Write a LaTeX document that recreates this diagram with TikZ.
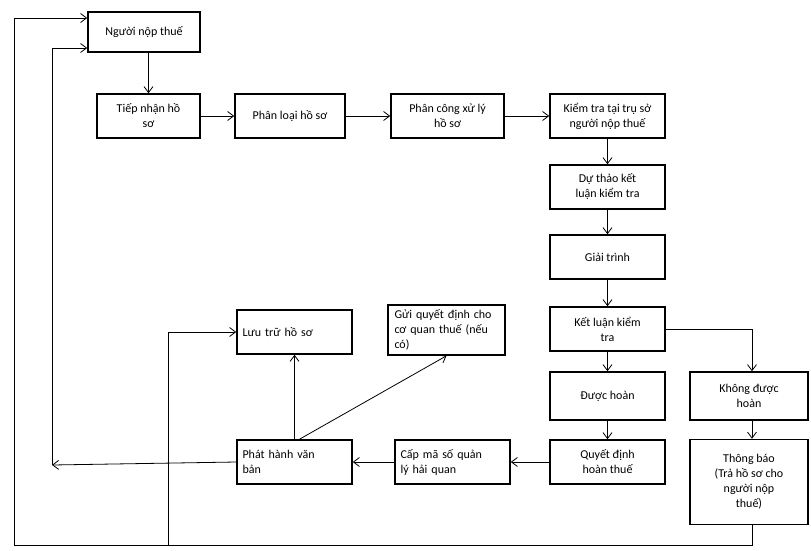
\documentclass[tikz,border=0pt]{standalone}
\usepackage{fontspec}
\setmainfont{Carlito}
\usetikzlibrary{arrows.meta}
\begin{document}
\begin{tikzpicture}[x=1pt,y=-1pt,font=\fontsize{12}{15}\selectfont,
  bx/.style={draw,line width=1.6pt,minimum width=113pt,minimum height=44pt,align=center,inner sep=3pt},
  bl/.style={bx,align=left,text width=104pt},
  ar/.style={-{Straight Barb[length=6pt,width=9pt]},line width=0.8pt}]
\useasboundingbox (0,0) rectangle (811,550);
\node[bx,minimum width=112pt,minimum height=40pt] (nnt) at (144,32) {Người nộp thuế};
\node[bx,minimum width=103pt] (tn) at (148.5,116) {Tiếp nhận hồ\\sơ};
\node[bx,minimum width=110pt] (pl) at (290,116) {Phân loại hồ sơ};
\node[bx] (pc) at (447.5,116) {Phân công xử lý\\hồ sơ};
\node[bx,minimum width=115pt] (kt) at (607.5,116) {Kiểm tra tại trụ sở\\người nộp thuế};
\node[bx,minimum width=115pt] (dt) at (607.5,187) {Dự thảo kết\\luận kiểm tra};
\node[bx,minimum width=115pt] (gt) at (607.5,257) {Giải trình};
\node[bx,minimum width=115pt] (kl) at (607.5,329) {Kết luận kiểm\\tra};
\node[bx,minimum width=115pt,minimum height=48pt] (dh) at (607.5,396) {Được hoàn};
\node[bx,minimum width=115pt] (qd) at (607.5,462) {Quyết định\\hoàn thuế};
\node[bx,minimum width=118pt,minimum height=48pt] (kdh) at (749,396) {Không được\\hoàn};
\node[bx,minimum width=118pt,minimum height=85pt] (tb) at (749,482) {Thông báo\\(Trả hồ sơ cho\\người nộp\\thuế)};
\node[bl,minimum width=115pt,minimum height=44pt] (cm) at (452.5,462) {Cấp mã số quản\\lý hải quan};
\node[bl,minimum width=115pt,minimum height=44pt] (ph) at (294.5,462) {Phát hành văn\\bản};
\node[bl,minimum width=115pt,minimum height=44pt] (lt) at (294.5,332) {Lưu trữ hồ sơ};
\node[bl,minimum width=117pt,minimum height=50pt] (gq) at (446.5,330) {Gửi quyết định cho\\cơ quan thuế (nếu\\có)};
\coordinate (c1) at (52,465);
\coordinate (c2) at (752,545);
\coordinate (c3) at (168,545);
\draw[ar] (nnt.south -| tn.north) -- (tn.north);
\draw[ar] (tn) -- (pl);
\draw[ar] (pl) -- (pc);
\draw[ar] (pc) -- (kt);
\draw[ar] (kt) -- (dt);
\draw[ar] (dt) -- (gt);
\draw[ar] (gt) -- (kl);
\draw[ar] (kl) -- (dh);
\draw[ar] (dh) -- (qd);
\draw[ar] (kl.east) -| (kdh.north -| c2);
\draw[ar] (kdh.south -| c2) -- (tb.north -| c2);
\draw[ar] (qd) -- (cm);
\draw[ar] (cm) -- (ph);
\draw[ar] (ph.north) -- (lt.south);
\draw[ar] (ph.north) ++(5,0) coordinate (d0) -- (gq.south);
\draw[ar] (ph.west) -- (c1);
\draw[ar] (c1) |- (nnt.west |- 0,48);
\draw[line width=0.8pt] (tb.south -| c2) -- (c2) -- (14,545) coordinate (c4);
\draw[ar] (c4) |- (nnt.west |- 0,18);
\draw[ar] (c3) |- (lt.west);
\end{tikzpicture}
\end{document}
